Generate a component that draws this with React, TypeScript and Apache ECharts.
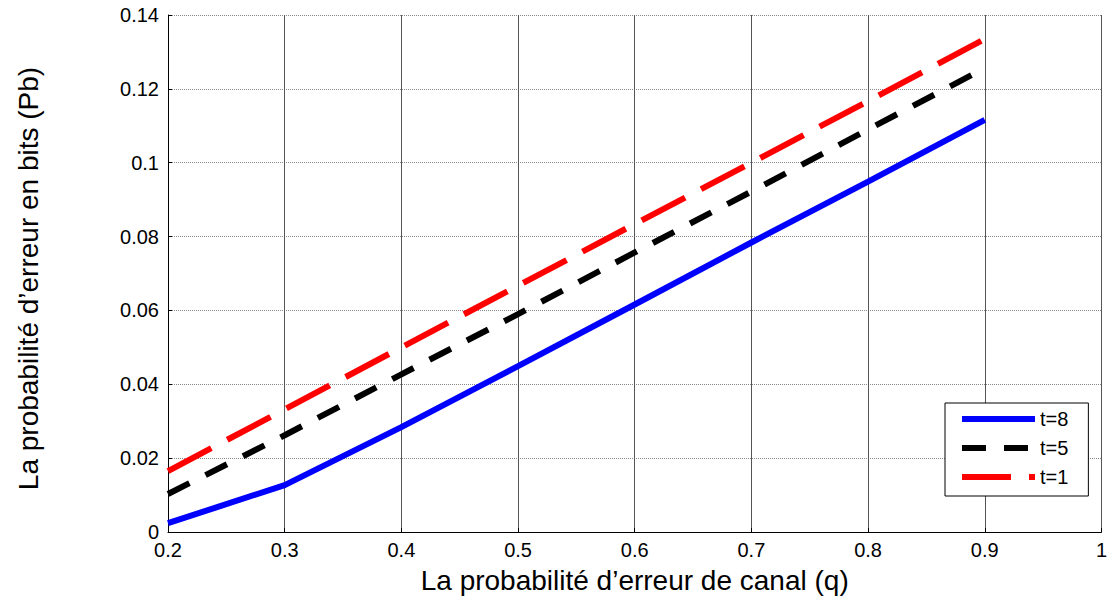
import React, { useEffect, useRef } from "react";
import * as echarts from "echarts";

const q = [0.2, 0.3, 0.4, 0.5, 0.6, 0.7, 0.8, 0.9];
const t8 = [0.0024, 0.0127, 0.0284, 0.0449, 0.0616, 0.0784, 0.0949, 0.1116];
const t5 = [0.0103, 0.0262, 0.0427, 0.059, 0.0757, 0.0922, 0.109, 0.1256];
const t1 = [0.0165, 0.0332, 0.05, 0.0667, 0.0834, 0.1, 0.1167, 0.1335];
const seriesNames = ["t=8", "t=5", "t=1"];

const FONT = "'Liberation Sans', Arial, sans-serif";

export default function App() {
  const ref = useRef<HTMLDivElement>(null);
  useEffect(() => {
    const chart = echarts.init(ref.current!, null, { renderer: "svg" });
    const pairs = (ys: number[]) => q.map((x, i) => [x, ys[i]]);
    chart.setOption({
      animation: false,
      backgroundColor: "#fff",
      grid: { left: 168, right: 5, top: 15, bottom: 66 },
      xAxis: {
        type: "value",
        min: 0.2,
        max: 1,
        interval: 0.1,
        name: "La probabilité d’erreur de canal (q)",
        nameLocation: "middle",
        nameGap: 34,
        nameTextStyle: { fontFamily: FONT, fontSize: 28, color: "#000" },
        axisLine: { show: true, onZero: false, lineStyle: { color: "#000", width: 1 } },
        axisTick: { show: true, inside: true, length: 4, lineStyle: { color: "#000" } },
        axisLabel: {
          fontFamily: FONT,
          fontSize: 20,
          color: "#000",
          margin: 8,
          formatter: (v: number) => String(Math.round(v * 10) / 10),
        },
        splitLine: { show: true, lineStyle: { color: "#555", width: 1, type: "solid" } },
      },
      yAxis: {
        type: "value",
        min: 0,
        max: 0.14,
        interval: 0.02,
        name: "La probabilité d’erreur en bits (Pb)",
        nameLocation: "middle",
        nameGap: 126,
        nameTextStyle: { fontFamily: FONT, fontSize: 28, color: "#000", padding: [0, 10, 0, 0] },
        axisLine: { show: true, lineStyle: { color: "#000", width: 1 } },
        axisTick: { show: true, inside: true, length: 4, lineStyle: { color: "#000" } },
        axisLabel: {
          fontFamily: FONT,
          fontSize: 20,
          color: "#000",
          margin: 9,
          formatter: (v: number) => String(Math.round(v * 100) / 100),
        },
        splitLine: { show: true, lineStyle: { color: "#888", width: 1, type: [1, 1] } },
      },
      legend: {
        orient: "vertical",
        left: 945,
        top: 403,
        padding: [5, 20, 8, 14],
        itemWidth: 73,
        itemHeight: 14,
        itemGap: 7,
        backgroundColor: "#fff",
        borderColor: "#000",
        borderWidth: 1,
        borderRadius: 0,
        itemStyle: { opacity: 0 },
        lineStyle: { width: 6, cap: "butt" },
        textStyle: { fontFamily: FONT, fontSize: 20, color: "#000", lineHeight: 22 },
        data: seriesNames,
      },
      series: [
        {
          name: seriesNames[0],
          type: "line",
          data: pairs(t8),
          symbol: "none",
          lineStyle: { color: "#0000ff", width: 6, type: "solid", cap: "butt" },
          itemStyle: { color: "#0000ff" },
          z: 3,
        },
        {
          name: seriesNames[1],
          type: "line",
          data: pairs(t5),
          symbol: "none",
          lineStyle: { color: "#000", width: 6, type: [24, 18], cap: "butt" },
          itemStyle: { color: "#000" },
          z: 4,
        },
        {
          name: seriesNames[2],
          type: "line",
          data: pairs(t1),
          symbol: "none",
          lineStyle: { color: "#ff0000", width: 6, type: [49, 18], cap: "butt" },
          itemStyle: { color: "#ff0000" },
          z: 5,
        },
      ],
    });
    return () => chart.dispose();
  }, []);
  return <div ref={ref} style={{ width: 1110, height: 599, position: "absolute", left: 0, top: 0 }} />;
}
